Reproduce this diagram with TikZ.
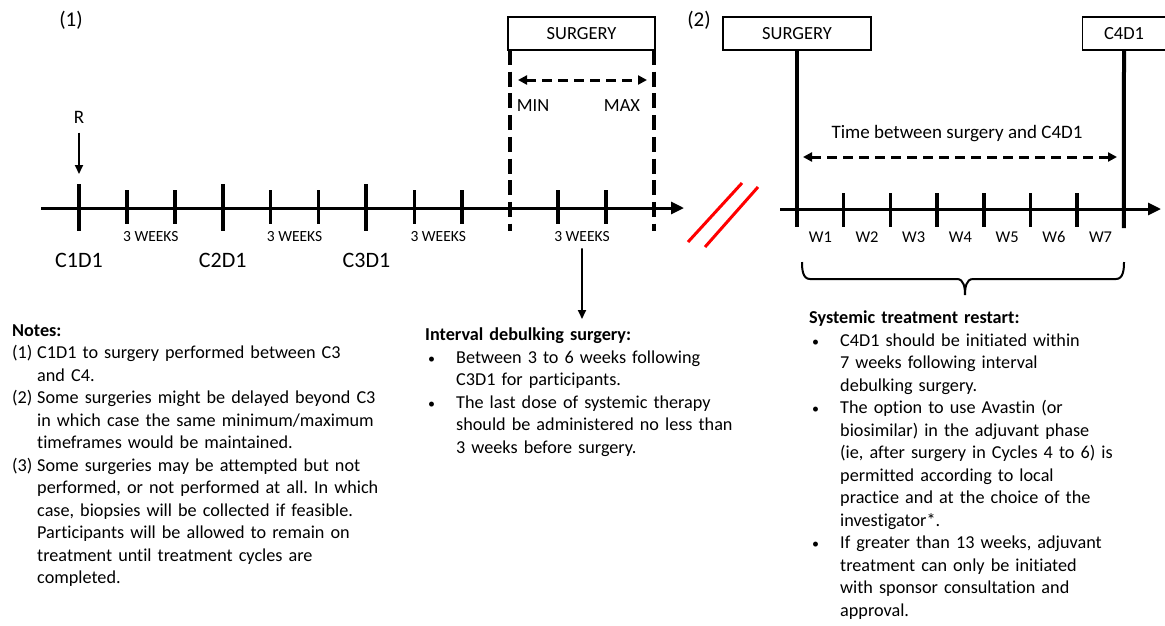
\documentclass[tikz,border=0pt]{standalone}
\usepackage{fontspec}
\setmainfont{Carlito}[Ligatures=CommonOff]
\usetikzlibrary{calc, arrows.meta, positioning}

\begin{document}
\begin{tikzpicture}[x=1pt, y=-1pt,
    axisline/.style={line width=3pt, -{Triangle[length=13pt, width=12pt]}},
    tickbig/.style={line width=4pt},
    ticksmall/.style={line width=3.5pt},
    dashline/.style={line width=4pt, dash pattern=on 15pt off 6.7pt},
    dasharrow/.style={line width=3pt, dash pattern=on 10pt off 6pt,
        {Triangle[length=9pt, width=9pt]}-{Triangle[length=9pt, width=9pt]}},
    arr/.style={line width=1.8pt, -{Triangle[length=9pt, width=8pt]}},
    box/.style={draw, line width=1.5pt, minimum height=33pt, inner sep=0pt,
        font=\fontsize{18.5}{22}\selectfont},
    lbl/.style={inner sep=2pt, font=\fontsize{18.5}{22}\selectfont},
    weeks/.style={inner sep=2pt, font=\fontsize{15.5}{18}\selectfont},
    cyc/.style={inner sep=2pt, font=\fontsize{22}{26}\selectfont},
    body/.style={anchor=north west, inner sep=0pt, text width=420pt,
        font=\fontsize{18.2}{22.5}\selectfont},
    slash/.style={red, line width=3pt}
]
\useasboundingbox (0,0) rectangle (1165,625);
\newcommand{\TickStep}{47.9}
\newcommand{\WeekStep}{46.7}
\newcommand{\HangItem}[2]{\par\hangindent=#1\hangafter=1\noindent\makebox[#1][l]{#2}}
\newcommand{\BulletItem}{\par\hangindent=31pt\hangafter=1\noindent\hspace*{3pt}%
    \makebox[28pt][l]{\fontsize{14}{14}\selectfont\textbullet}}

% part (1): cycles up to surgery
\node[font=\fontsize{21}{24}\selectfont] (partA) at (71,20) {(1)};
\coordinate (axAL) at (41,208);
\coordinate (axAR) at (684,208);
\draw[axisline] (axAL) -- (axAR);

\foreach \v in 
{0,...,12}
{
    \coordinate (t\v) at ({79+\TickStep*\v}, {208});
}
\foreach \v in 
{1,2,4,5,7,8,10,11}
{
    \draw[ticksmall] ($(t\v)+(0,-18)$) -- ($(t\v)+(0,16)$);
}
\foreach \v in 
{0,3,6}
{
    \draw[tickbig] ($(t\v)+(0,-24)$) -- ($(t\v)+(0,23)$);
}

\foreach \a/\b in 
{1/2,4/5,7/8,10/11}
{
    \node[weeks] (wk\a) at ($(t\a)!0.5!(t\b)+(0,29)$) {3 WEEKS};
}
\foreach \v/\c in 
{0/1,3/2,6/3}
{
    \node[cyc] (cyc\c) at ($(t\v)+(0,52)$) {C\c D1};
}

% randomisation
\node[font=\fontsize{19}{22}\selectfont] (R) at (79,117) {R};
\coordinate (rtip) at (79,174);
\draw[arr, shorten <=6pt] (R) -- (rtip);

% surgery window
\node[box, minimum width=147pt] (surgA) at (581.5,33.5) {SURGERY};
\draw[dashline] ($(t9)+(0,-158)$) -- ($(t9)+(0,23)$);
\draw[dashline] ($(t12)+(0,-158)$) -- ($(t12)+(0,23)$);
\coordinate (mmL) at (518,80);
\coordinate (mmR) at (647,80);
\draw[dasharrow] (mmL) -- (mmR);
\node[lbl] (min) at (533,106) {MIN};
\node[lbl] (max) at (622,106) {MAX};

% break
\draw[slash] (688,242) -- (742,183);
\draw[slash] (705,247) -- (758,187);

% part (2): surgery to C4D1
\node[font=\fontsize{21}{24}\selectfont] (partB) at (699,20) {(2)};
\coordinate (axBL) at (780,209);
\coordinate (axBR) at (1161,209);
\draw[axisline] (axBL) -- (axBR);

\foreach \v in 
{0,...,7}
{
    \coordinate (u\v) at ({797+\WeekStep*\v}, {209});
}
\foreach \v in 
{1,...,6}
{
    \draw[ticksmall] ($(u\v)+(0,-16)$) -- ($(u\v)+(0,18)$);
}
\foreach \v in 
{1,...,7}
{
    \pgfmathtruncatemacro{\w}{\v-1}
    \node[weeks, font=\fontsize{16.5}{18}\selectfont] (w\v) at ($(u\w)!0.5!(u\v)+(0,28)$) {W\v};
}

\node[box, minimum width=148pt] (surgB) at (797,33.5) {SURGERY};
\node[box, minimum width=83pt] (cfour) at (1124,33.5) {C4D1};
\draw[tickbig] (surgB.south) -- ($(u0)+(0,18)$);
\draw[tickbig] (cfour.south) -- ($(u7)+(0,19)$);

\node[lbl, font=\fontsize{19}{22}\selectfont] (tbs) at (957,134) {Time between surgery and C4D1};
\coordinate (tbL) at (803,157);
\coordinate (tbR) at (1117,157);
\draw[dasharrow] (tbL) -- (tbR);

% brace
\draw[line width=2pt] (802,262) to[out=-90, in=180] (810,279) -- (957,279)
    to[out=0, in=90] (965,295) to[out=90, in=180] (973,279) -- (1116,279)
    to[out=0, in=-90] (1124,262);

% notes
\node[body] (notes) at (12,324) {\parindent=0pt\frenchspacing
\textbf{Notes:}
\HangItem{25pt}{(1)}C1D1 to surgery performed between C3\newline and C4.
\HangItem{25pt}{(2)}Some surgeries might be delayed beyond C3\newline in which case the same minimum/maximum\newline timeframes would be maintained.
\HangItem{25pt}{(3)}Some surgeries may be attempted but not\newline performed, or not performed at all. In which\newline case, biopsies will be collected if feasible.\newline Participants will be allowed to remain on\newline treatment until treatment cycles are\newline completed.\par};

\node[body] (intv) at (425,328) {\parindent=0pt\frenchspacing
\textbf{Interval debulking surgery:}
\BulletItem Between 3 to 6 weeks following\newline C3D1 for participants.
\BulletItem The last dose of systemic therapy\newline should be administered no less than\newline 3 weeks before surgery.\par};
\coordinate (ivtip) at (582,319);
\draw[arr, shorten <=4pt] (wk10) -- (ivtip);

\node[body] (restart) at (809,311) {\parindent=0pt\frenchspacing
\textbf{Systemic treatment restart:}
\BulletItem C4D1 should be initiated within\newline 7 weeks following interval\newline debulking surgery.
\BulletItem The option to use Avastin (or\newline biosimilar) in the adjuvant phase\newline (ie, after surgery in Cycles 4 to 6) is\newline permitted according to local\newline practice and at the choice of the\newline investigator*.
\BulletItem If greater than 13 weeks, adjuvant\newline treatment can only be initiated\newline with sponsor consultation and\newline approval.\par};
\end{tikzpicture}
\end{document}
